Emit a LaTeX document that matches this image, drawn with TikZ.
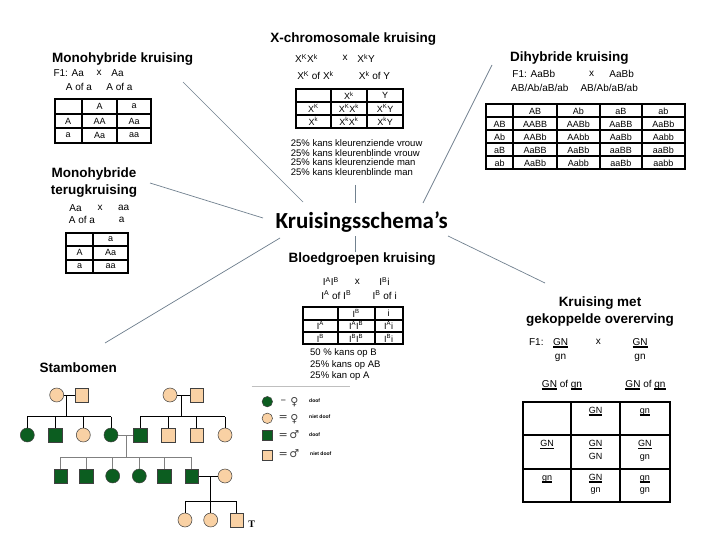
\documentclass[tikz,border=0pt]{standalone}
\usepackage{fontspec}
\setmainfont{Liberation Sans}
\newfontfamily\schemafont{Carlito}
\newfontfamily\tekenfont{DejaVu Sans}
\newfontfamily\letterfont{Liberation Serif}
\usetikzlibrary{matrix}
\definecolor{lijnkleur}{HTML}{71818F}
\definecolor{groen}{HTML}{0C5D20}
\definecolor{huid}{HTML}{F9D1A4}
\definecolor{rand}{HTML}{404040}
\newcommand{\sk}[2]{#1\textsuperscript{#2}}
\newcommand{\chr}[1]{\setbox0\hbox{#1}\rlap{\rule[-2.4pt]{\wd0}{1.4pt}}\box0\relax}
\newcommand{\twee}[3][1.15]{{\renewcommand\arraystretch{#1}\begin{tabular}{@{}c@{}}#2\\#3\end{tabular}}}
\begin{document}
\begin{tikzpicture}[x=1pt,y=-1pt]
	% Stijlen
	\tikzstyle{kop}=[font=\bfseries\fontsize{13.5}{17}\selectfont,inner sep=0pt]
	\tikzstyle{tekst}=[font=\fontsize{10}{11}\selectfont,inner sep=0pt]
	\tikzstyle{regels}=[font=\fontsize{9.5}{9.5}\selectfont,inner sep=0pt,align=left,anchor=west]
	\tikzstyle{tabel}=[matrix of nodes,nodes in empty cells,anchor=north west,
		inner sep=0pt,column sep=-2pt,row sep=-2pt,
		nodes={draw,anchor=center,line width=2pt,inner sep=0pt,font=\fontsize{9}{11}\selectfont}]
	\tikzstyle{verbind}=[draw=lijnkleur,line width=0.7pt]
	\tikzstyle{vr}=[circle,draw=rand,line width=0.5pt,minimum size=14pt,inner sep=0pt]
	\tikzstyle{mn}=[rectangle,draw=rand,line width=0.5pt,minimum size=13.5pt,inner sep=0pt]
	\tikzstyle{doof}=[fill=groen]
	\tikzstyle{horend}=[fill=huid]
	\tikzstyle{band}=[line width=0.9pt]
	\tikzstyle{legvr}=[vr,minimum size=10.5pt]
	\tikzstyle{legmn}=[mn,minimum size=10pt]
	\tikzstyle{legteken}=[font=\tekenfont\fontsize{11}{11}\selectfont,inner sep=0pt,text=rand]
	\tikzstyle{legtekst}=[font=\bfseries\fontsize{5}{6}\selectfont,anchor=west,inner sep=0pt]
	% Kader
	\fill[white] (0,0) rectangle (720,540);
	\useasboundingbox (0,0) rectangle (720,540);
	% Midden
	\node[font=\schemafont\bfseries\fontsize{23}{25}\selectfont,inner sep=0pt] (schema) at (361.7,221.7) {Kruisingsschema’s};
	% Monohybride kruising
	\node[kop,anchor=west] (monokop) at (52,59) {Monohybride kruising};
	\node[tekst] (monoF1a) at (68.7,73.3) {F1: Aa};
	\node[tekst] (monox) at (99,73.3) {x};
	\node[tekst] (monoF1b) at (117.5,73.3) {Aa};
	\node[tekst] (monogama) at (79,87.3) {A of a};
	\node[tekst] (monogamb) at (119.5,87.3) {A of a};
	\matrix[tabel,nodes={minimum height=14.5pt},
		column 1/.style={nodes={minimum width=27.4pt}},
		column 2/.style={nodes={minimum width=35.3pt}},
		column 3/.style={nodes={minimum width=34pt}}] (monotabel) at (53.3,98) {
		  & A  & a  \\
		A & AA & Aa \\
		a & Aa & aa \\
	};
	% Monohybride terugkruising
	\node[kop,align=center] (terugkop) at (94,182.5) {Monohybride\\terugkruising};
	\node[tekst] (terugouda) at (75.5,208) {Aa};
	\node[tekst] (terugx) at (100,208) {x};
	\node[tekst] (terugoudb) at (123.7,208) {aa};
	\node[tekst] (teruggama) at (82,220) {A of a};
	\node[tekst] (teruggamb) at (121.7,220) {a};
	\matrix[tabel,nodes={minimum height=13.3pt},
		column 1/.style={nodes={minimum width=26.7pt}},
		column 2/.style={nodes={minimum width=35.3pt}}] (terugtabel) at (65,231.7) {
		  & a  \\
		A & Aa \\
		a & aa \\
	};
	% X-chromosomale kruising
	\node[kop] (xkop) at (353.3,39) {X-chromosomale kruising};
	\node[tekst] (xouda) at (306.5,58.3) {\sk{X}{K}\sk{X}{k}};
	\node[tekst] (xx) at (345,58.3) {x};
	\node[tekst] (xoudb) at (366,58.3) {\sk{X}{k}Y};
	\node[tekst] (xgama) at (315.5,75.7) {\sk{X}{K} of \sk{X}{k}};
	\node[tekst] (xgamb) at (374.5,75.7) {\sk{X}{k} of Y};
	\matrix[tabel,nodes={minimum height=12.8pt},
		column 1/.style={nodes={minimum width=34.3pt}},
		column 2/.style={nodes={minimum width=36.7pt}},
		column 3/.style={nodes={minimum width=35.7pt}}] (xtabel) at (295,88.3) {
		  & \sk{X}{k} & Y \\
		\sk{X}{K} & \sk{X}{K}\sk{X}{k} & \sk{X}{K}Y \\
		\sk{X}{k} & \sk{X}{k}\sk{X}{k} & \sk{X}{k}Y \\
	};
	\node[regels] (xkansen) at (290.7,157.5) {25\% kans kleurenziende vrouw\\25\% kans kleurenblinde vrouw\\25\% kans kleurenziende man\\25\% kans kleurenblinde man};
	% Dihybride kruising
	\node[kop,anchor=west] (dikop) at (510,58.3) {Dihybride kruising};
	\node[tekst] (diouda) at (533.8,74.3) {F1: AaBb};
	\node[tekst] (dix) at (591.7,74.3) {x};
	\node[tekst] (dioudb) at (621.7,74.3) {AaBb};
	\node[tekst] (digama) at (539.8,88.3) {AB/Ab/aB/ab};
	\node[tekst] (digamb) at (609.2,88.3) {AB/Ab/aB/ab};
	\matrix[tabel,nodes={minimum height=13pt},
		column 1/.style={nodes={minimum width=26.7pt}},
		column 2/.style={nodes={minimum width=44.3pt}},
		column 3/.style={nodes={minimum width=42.3pt}},
		column 4/.style={nodes={minimum width=42.7pt}},
		column 5/.style={nodes={minimum width=42.3pt}}] (ditabel) at (485,103.3) {
		   & AB   & Ab   & aB   & ab   \\
		AB & AABB & AABb & AaBB & AaBb \\
		Ab & AABb & AAbb & AaBb & Aabb \\
		aB & AaBB & AaBb & aaBB & aaBb \\
		ab & AaBb & Aabb & aaBb & aabb \\
	};
	% Bloedgroepen kruising
	\node[kop] (bloedkop) at (362.2,259.3) {Bloedgroepen kruising};
	\node[tekst] (bloedouda) at (330.8,281.7) {\sk{I}{A}\sk{I}{B}};
	\node[tekst] (bloedx) at (357.3,281.7) {x};
	\node[tekst] (bloedoudb) at (384.5,281.7) {\sk{I}{B}i};
	\node[tekst] (bloedgama) at (336.3,295) {\sk{I}{A} of \sk{I}{B}};
	\node[tekst] (bloedgamb) at (384.7,295) {\sk{I}{B} of i};
	\matrix[tabel,nodes={minimum height=12.4pt},
		column 1/.style={nodes={minimum width=35pt}},
		column 2/.style={nodes={minimum width=36.6pt}},
		column 3/.style={nodes={minimum width=28.4pt}}] (bloedtabel) at (301.7,306) {
		  & \sk{I}{B} & i \\
		\sk{I}{A} & \sk{I}{A}\sk{I}{B} & \sk{I}{A}i \\
		\sk{I}{B} & \sk{I}{B}\sk{I}{B} & \sk{I}{B}i \\
	};
	\node[regels,font=\fontsize{9.5}{11.4}\selectfont] (bloedkansen) at (310,364.7) {50 \% kans op B\\25\% kans op AB\\25\% kan op A};
	% Gekoppelde overerving
	\node[kop,align=center] (koppelkop) at (600,311.7) {Kruising met\\gekoppelde overerving};
	\node[tekst] (koppelF1) at (536.3,342.3) {F1:};
	\node[tekst] (koppelouda) at (560.5,349.5) {\twee[1.3]{\chr{GN}}{gn}};
	\node[tekst] (koppelx) at (598.3,342.3) {x};
	\node[tekst] (koppeloudb) at (640,349.5) {\twee[1.3]{\chr{GN}}{gn}};
	\node[tekst] (koppelgama) at (562,385) {\chr{GN} of \chr{gn}};
	\node[tekst] (koppelgamb) at (645.5,385) {\chr{GN} of \chr{gn}};
	\matrix[tabel,nodes={minimum height=33.4pt,text height=5pt,text depth=3.5pt},
		column 1/.style={nodes={minimum width=48.3pt}},
		column 2/.style={nodes={minimum width=49pt}},
		column 3/.style={nodes={minimum width=49.3pt}}] (koppeltabel) at (521.7,400.7) {
		  & \twee{\chr{GN}}{\mbox{}} & \twee{\chr{gn}}{\mbox{}} \\
		\twee{\chr{GN}}{\mbox{}} & \twee{\chr{GN}}{GN} & \twee{\chr{GN}}{gn} \\
		\twee{\chr{gn}}{\mbox{}} & \twee{\chr{GN}}{gn} & \twee{\chr{gn}}{gn} \\
	};
	% Stambomen
	\node[kop,anchor=west] (stamkop) at (39.3,367.3) {Stambomen};
	% generatie I
	\node[vr,horend] (a1) at (56.7,395) {};
	\node[mn,horend] (a2) at (81.7,395) {};
	\node[vr,horend] (b1) at (170,395) {};
	\node[mn,horend] (b2) at (196.7,395) {};
	% generatie II
	\node[vr,doof] (c1) at (27.3,435) {};
	\node[mn,doof] (c2) at (55,435) {};
	\node[vr,horend] (c3) at (83.3,435) {};
	\node[vr,doof] (c4) at (111,435) {};
	\node[mn,doof] (d1) at (140,435) {};
	\node[mn,horend] (d2) at (168.3,435) {};
	\node[mn,horend] (d3) at (196.7,435) {};
	\node[vr,horend] (d4) at (225,435) {};
	% generatie III
	\node[mn,doof] (e1) at (60.7,476) {};
	\node[mn,doof] (e2) at (86,476) {};
	\node[vr,doof] (e3) at (112.7,476) {};
	\node[vr,doof] (e4) at (139.3,476) {};
	\node[mn,doof] (e5) at (164,476) {};
	\node[mn,doof] (e6) at (191.7,476) {};
	\node[vr,horend] (f1) at (225,476) {};
	% generatie IV
	\node[vr,horend] (g1) at (185,520) {};
	\node[vr,horend] (g2) at (210.7,520) {};
	\node[mn,horend] (g3) at (236.7,520) {};
	\node[font=\letterfont\bfseries\fontsize{10}{10}\selectfont,inner sep=0pt] (T) at (251.7,524) {T};
	% lijnen stamboom
	\coordinate (ha) at (66.7,416.7);
	\coordinate (hb) at (181,416.7);
	\coordinate (hc) at (126,457.3);
	\coordinate (hd) at (210.7,501.7);
	\draw[band] (a1) -- (a2);
	\draw[band] (a1 -| ha) -- (ha);
	\draw[band] (c1 |- ha) -- (c4 |- ha);
	\foreach \k in {c1,c2,c3,c4} \draw[band] (\k |- ha) -- (\k);
	\draw[band] (b1) -- (b2);
	\draw[band] (b1 -| hb) -- (hb);
	\draw[band] (d1 |- hb) -- (d4 |- hb);
	\foreach \k in {d1,d2,d3,d4} \draw[band] (\k |- hb) -- (\k);
	\draw[band,draw=gray] (c4) -- (d1);
	\draw[band,draw=gray] (c4 -| hc) -- (hc);
	\draw[band,draw=gray] (e1 |- hc) -- (e6 |- hc);
	\foreach \k in {e1,e2,e3,e4,e5,e6} \draw[band,draw=gray] (\k |- hc) -- (\k);
	\draw[band] (e6) -- (f1);
	\draw[band] (e6 -| hd) -- (hd);
	\draw[band] (g1 |- hd) -- (g3 |- hd);
	\foreach \k in {g1,g2,g3} \draw[band] (\k |- hd) -- (\k);
	% Legenda
	\coordinate (legA) at (251.7,386.7);
	\coordinate (legB) at (350,386.7);
	\draw[draw=gray!50,line width=0.7pt] (legA) -- (legB);
	\node[legvr,doof] (l1) at (267.3,401.7) {};
	\node[legteken] (l1is) at (283.3,401.7) {–};
	\node[legteken] (l1sym) at (294.3,402.5) {♀};
	\node[legtekst] (l1tekst) at (309,400.5) {doof};
	\node[legvr,horend] (l2) at (267.3,418.3) {};
	\node[legteken] (l2is) at (283.3,418.3) {=};
	\node[legteken] (l2sym) at (294.3,419) {♀};
	\node[legtekst] (l2tekst) at (309,417) {niet doof};
	\node[legmn,doof] (l3) at (267.3,435.7) {};
	\node[legteken] (l3is) at (283.3,435.7) {=};
	\node[legteken] (l3sym) at (294.3,434.5) {♂};
	\node[legtekst] (l3tekst) at (309,434.5) {doof};
	\node[legmn,horend] (l4) at (267.3,455) {};
	\node[legteken] (l4is) at (283.3,455) {=};
	\node[legteken] (l4sym) at (294.3,453.8) {♂};
	\node[legtekst] (l4tekst) at (310,454) {niet doof};
	% Verbindingen
	\coordinate (monoA) at (183,82);      \coordinate (monoB) at (303,202);
	\coordinate (terugA) at (150,183);    \coordinate (terugB) at (263,218);
	\coordinate (xA) at (355,185);        \coordinate (xB) at (355,203);
	\coordinate (diA) at (492,65);        \coordinate (diB) at (423,203);
	\coordinate (bloedA) at (355,236);    \coordinate (bloedB) at (355,252);
	\coordinate (stamA) at (280,238);     \coordinate (stamB) at (105,343);
	\coordinate (koppelA) at (448,236);   \coordinate (koppelB) at (545,283);
	\draw[verbind] (monoA) -- (monoB);
	\draw[verbind] (terugA) -- (terugB);
	\draw[verbind] (xA) -- (xB);
	\draw[verbind] (diA) -- (diB);
	\draw[verbind] (bloedA) -- (bloedB);
	\draw[verbind] (stamA) -- (stamB);
	\draw[verbind] (koppelA) -- (koppelB);
\end{tikzpicture}
\end{document}
